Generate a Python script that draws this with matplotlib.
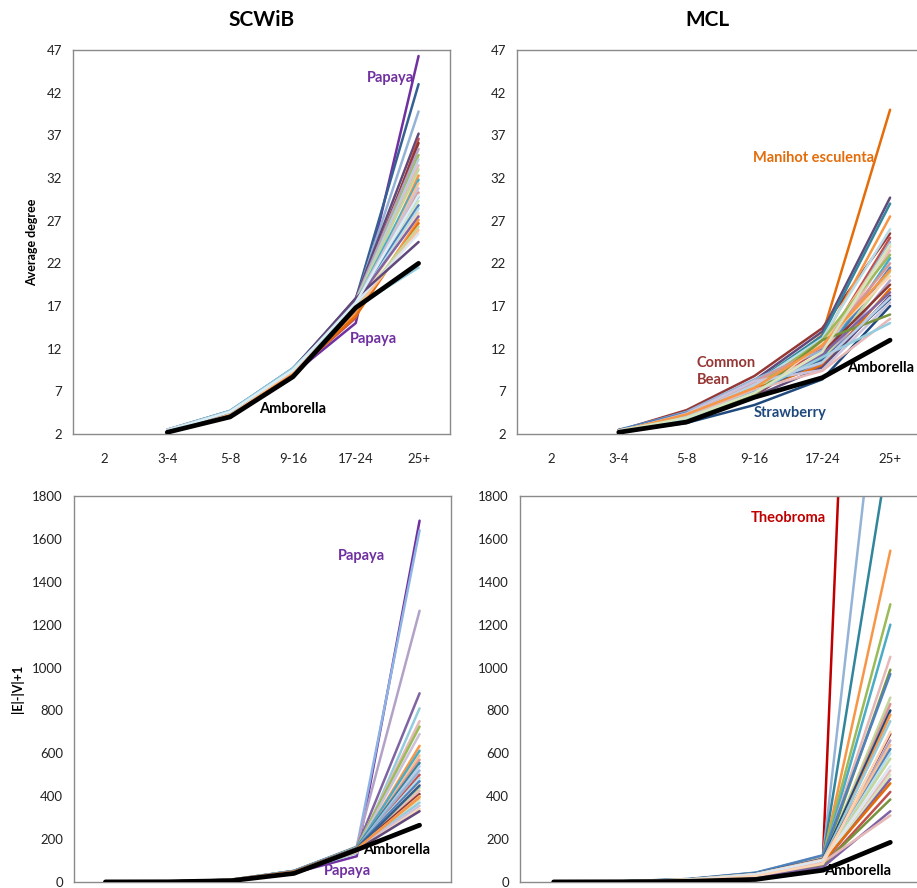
import matplotlib
matplotlib.use("Agg")
import matplotlib.pyplot as plt
import numpy as np

plt.rcParams['font.family'] = ['Lato', 'DejaVu Sans']

categories = ['2', '3-4', '5-8', '9-16', '17-24', '25+']

# ---- SCWiB, average degree (no value at "2") ----
scwib_deg_34 = [2.4, 2.5, 2.4, 2.3, 2.3, 2.4, 2.5, 2.4, 2.4, 2.3, 2.5, 2.4, 2.4, 2.3, 2.5, 2.4,
                2.4, 2.3, 2.5, 2.4, 2.3, 2.4, 2.3, 2.3, 2.4, 2.4, 2.5, 2.3, 2.4, 2.4]
scwib_deg_58 = [4.4, 4.6, 4.7, 4.5, 4.4, 4.6, 4.7, 4.5, 4.6, 4.4, 4.7, 4.5, 4.6, 4.5, 4.7, 4.4,
                4.6, 4.5, 4.7, 4.6, 4.5, 4.6, 4.4, 4.4, 4.5, 4.5, 4.6, 4.6, 4.7, 4.6]
scwib_deg_916 = [9.0, 9.6, 9.7, 9.4, 9.1, 9.5, 9.6, 9.4, 9.5, 9.3, 9.6, 9.2, 9.5, 9.4, 9.6, 9.3,
                 9.5, 9.4, 9.7, 9.5, 9.3, 9.6, 9.2, 9.1, 9.4, 9.3, 9.5, 9.6, 9.7, 9.5]
scwib_deg_1724 = [15.0, 17.8, 17.6, 17.9, 15.6, 17.4, 17.7, 17.3, 17.5, 17.2, 17.6, 16.2, 17.4, 16.8, 17.5, 16.5,
                  17.3, 17.1, 17.6, 17.2, 16.9, 17.5, 16.0, 15.8, 17.0, 16.6, 17.3, 17.9, 16.9, 17.4]
scwib_deg_25 = [46.3, 43.0, 39.8, 37.2, 36.6, 36.1, 35.4, 34.7, 34.2, 33.5, 33.0, 32.3, 31.8, 31.4, 30.8, 30.3,
                29.8, 29.3, 28.8, 28.4, 27.9, 27.5, 27.1, 26.7, 26.3, 25.9, 25.5, 24.5, 21.5, 30.0]
scwib_deg_amborella = [np.nan, 2.2, 4.0, 8.7, 16.8, 22.0]

# ---- MCL, average degree ----
mcl_deg_34 = [2.3, 2.4, 2.2, 2.4, 2.3, 2.4, 2.3, 2.5, 2.4, 2.3, 2.4, 2.3, 2.4, 2.3, 2.5, 2.4,
              2.3, 2.4, 2.3, 2.4, 2.3, 2.4, 2.3, 2.2, 2.3, 2.4, 2.3, 2.4, 2.3, 2.4]
mcl_deg_58 = [4.2, 4.8, 3.3, 4.5, 4.4, 4.1, 4.3, 4.0, 4.6, 3.9, 4.2, 4.4, 3.8, 4.1, 4.5, 3.7,
              4.3, 3.9, 4.2, 3.8, 4.0, 3.7, 3.9, 4.4, 3.6, 4.0, 3.8, 4.1, 4.3, 3.9]
mcl_deg_916 = [7.3, 8.8, 5.4, 8.3, 8.0, 7.6, 7.9, 7.2, 8.4, 7.0, 7.7, 7.4, 6.9, 8.1, 6.8, 7.5,
               6.6, 7.1, 6.5, 7.3, 6.7, 6.4, 7.0, 8.2, 6.6, 7.2, 6.9, 7.8, 7.4, 6.8]
mcl_deg_1724 = [13.6, 14.4, 8.4, 14.0, 13.5, 12.8, 13.2, 12.0, 11.8, 12.5, 11.2, 13.0, 10.8, 12.2, 11.0, 10.5,
                12.6, 10.2, 11.5, 10.0, 11.3, 9.8, 10.6, 9.5, 13.0, 9.4, 11.0, 10.4, 12.4, 11.6]
mcl_deg_25 = [40.0, 25.5, 17.0, 29.7, 29.0, 27.5, 26.0, 25.0, 24.5, 24.0, 23.5, 23.0, 22.6, 22.0, 21.5, 21.0,
              20.5, 20.0, 19.5, 19.0, 18.6, 18.2, 17.8, 17.4, 16.0, 15.5, 15.0, 18.0, 21.2, 24.2]
mcl_deg_amborella = [np.nan, 2.2, 3.4, 6.3, 8.6, 13.0]

# ---- SCWiB, |E|-|V|+1 ----
scwib_ev_2 = [0.5, 1, 0.5, 1, 0.5, 1, 0.5, 1, 0.5, 1, 0.5, 1, 0.5, 1, 0.5, 1,
              0.5, 1, 0.5, 1, 0.5, 1, 0.5, 1, 0.5, 1, 0.5, 1, 0.5, 1]
scwib_ev_34 = [1.5, 2, 2.5, 2, 1.5, 2, 2.5, 2, 1.5, 2, 2.5, 2, 1.5, 2, 2.5, 2,
               1.5, 2, 2.5, 2, 1.5, 2, 2.5, 2, 1.5, 2, 2.5, 2, 1.5, 2]
scwib_ev_58 = [8, 10, 11, 9, 8, 10, 9, 11, 10, 9, 8, 10, 11, 9, 10, 8,
               9, 10, 11, 9, 8, 10, 9, 10, 11, 9, 8, 10, 9, 10]
scwib_ev_916 = [42, 50, 52, 48, 45, 50, 49, 51, 47, 50, 46, 49, 52, 48, 50, 47,
                49, 51, 48, 50, 46, 49, 47, 50, 48, 49, 46, 45, 50, 48]
scwib_ev_1724 = [120, 162, 165, 160, 135, 158, 163, 157, 150, 160, 140, 158, 162, 155, 160, 148,
                 157, 161, 152, 159, 145, 158, 150, 160, 155, 157, 148, 150, 158, 155]
scwib_ev_25 = [1685, 1640, 1265, 880, 810, 750, 725, 690, 635, 612, 590, 570, 555, 540, 520, 500,
               485, 470, 455, 440, 425, 410, 400, 385, 370, 355, 340, 330, 450, 395]
scwib_ev_amborella = [0.5, 1, 6, 40, 150, 265]

# ---- MCL, |E|-|V|+1 ----
mcl_ev_2 = [1, 0.5, 1, 0.5, 1, 0.5, 1, 0.5, 1, 0.5, 1, 0.5, 1, 0.5, 1,
            0.5, 1, 0.5, 1, 0.5, 1, 0.5, 1, 0.5, 1, 0.5, 1, 0.5, 1, 0.5]
mcl_ev_34 = [2, 3, 2.5, 2, 3, 1.5, 2.5, 2, 3, 2, 1.5, 2.5, 2, 3, 2,
             1.5, 2.5, 2, 3, 2, 1.5, 2.5, 2, 1.5, 2, 2.5, 1.5, 2, 2.5, 2]
mcl_ev_58 = [10, 14, 12, 11, 13, 9, 12, 10, 14, 11, 9, 12, 8, 11, 10,
             9, 12, 8, 10, 11, 7, 9, 8, 10, 7, 8, 6, 9, 11, 8]
mcl_ev_916 = [38, 44, 42, 40, 41, 36, 39, 37, 43, 35, 33, 38, 30, 36, 34,
              31, 37, 29, 33, 35, 27, 30, 28, 32, 26, 29, 24, 31, 36, 28]
mcl_ev_1724 = [118, 122, 115, 110, 120, 104, 112, 100, 125, 98, 92, 108, 86, 102, 95,
               88, 105, 82, 96, 99, 78, 90, 84, 94, 75, 80, 70, 92, 101, 85]
mcl_ev_25 = [7600, 2890, 2060, 1545, 1295, 1200, 1050, 990, 970, 860, 830, 800, 780, 750, 690,
             660, 640, 620, 600, 575, 520, 500, 480, 460, 420, 385, 330, 310, 540, 700]
mcl_ev_amborella = [0.5, 1, 3, 12, 55, 185]

# colours (styling only)
tl_colors = ['#7030A0', '#376092', '#95B3D7', '#604A7B', '#C0504D', '#8C3836', '#B3A2C7', '#9BBB59',
             '#B9CDE5', '#E6B9B8', '#C3D69B', '#F79646', '#4BACC6', '#FAC090', '#CCC1DA', '#D99694',
             '#93CDDD', '#D7E4BD', '#4F81BD', '#B7DEE8', '#FCD5B5', '#8064A2', '#F79646', '#E46C0A',
             '#C3D69B', '#FAC090', '#DCE6F2', '#5F497A', '#93CDDD', '#DBEEF4']
tr_colors = ['#E46C0A', '#953735', '#1F497D', '#604A7B', '#31859C', '#F79646', '#B7DEE8', '#C0504D',
             '#95B3D7', '#FAC090', '#E6B9B8', '#9BBB59', '#4BACC6', '#D99694', '#4F81BD', '#C3D69B',
             '#FCD5B5', '#B3A2C7', '#8C3836', '#E46C0A', '#8064A2', '#5F497A', '#376092', '#CCC1DA',
             '#77933C', '#E6B9B8', '#93CDDD', '#B9CDE5', '#F79646', '#D7E4BD']
bl_colors = ['#7030A0', '#8EB4E3', '#B3A2C7', '#8064A2', '#93CDDD', '#E6B9B8', '#9BBB59', '#CCC1DA',
             '#F79646', '#4BACC6', '#FAC090', '#D99694', '#31859C', '#B9CDE5', '#95B3D7', '#C0504D',
             '#B7DEE8', '#4F81BD', '#FCD5B5', '#C3D69B', '#E6B9B8', '#8C3836', '#FAC090', '#D7E4BD',
             '#93CDDD', '#CCC1DA', '#FCD5B5', '#5F497A', '#376092', '#F79646']
br_colors = ['#C00000', '#95B3D7', '#31859C', '#F79646', '#9BBB59', '#4BACC6', '#E6B9B8', '#77933C',
             '#4F81BD', '#C3D69B', '#D99694', '#1F497D', '#F79646', '#93CDDD', '#8C3836', '#B3A2C7',
             '#FAC090', '#4F81BD', '#B7DEE8', '#C3D69B', '#E6B9B8', '#D7E4BD', '#8064A2', '#E46C0A',
             '#C0504D', '#77933C', '#8064A2', '#E6B9B8', '#DCE6F2', '#FCD5B5']

W, H = 917, 888
fig = plt.figure(figsize=(W / 100, H / 100), dpi=100)

def px_axes(left, top, right, bottom):
    return fig.add_axes([left / W, 1 - bottom / H, (right - left) / W, (bottom - top) / H])

ax_tl = px_axes(73, 50, 450, 434)
ax_tr = px_axes(517, 50, 924, 434)
ax_bl = px_axes(74, 496, 451, 882)
ax_br = px_axes(520, 496, 924, 882)

x = np.arange(len(categories))

def draw(ax, cols, colors, amborella, ylim, yticks):
    n = len(cols[-1])
    for i in range(n):
        vals = [c[i] if c is not None else np.nan for c in cols]
        ax.plot(x, vals, color=colors[i], lw=1.8, solid_capstyle='round', zorder=2)
    ax.plot(x, amborella, color='black', lw=3.4, solid_capstyle='round', zorder=3)
    ax.set_xlim(-0.5, 5.5)
    ax.set_ylim(*ylim)
    ax.set_yticks(yticks)
    ax.set_xticks(x)
    ax.set_xticklabels(categories)
    ax.tick_params(length=0, labelsize=9.5, colors='#222222', pad=8)
    for s in ax.spines.values():
        s.set_color('#8a8a8a')
        s.set_linewidth(1)

draw(ax_tl, [None, scwib_deg_34, scwib_deg_58, scwib_deg_916, scwib_deg_1724, scwib_deg_25],
     tl_colors, scwib_deg_amborella, (2, 47), np.arange(2, 48, 5))
draw(ax_tr, [None, mcl_deg_34, mcl_deg_58, mcl_deg_916, mcl_deg_1724, mcl_deg_25],
     tr_colors, mcl_deg_amborella, (2, 47), np.arange(2, 48, 5))
draw(ax_bl, [scwib_ev_2, scwib_ev_34, scwib_ev_58, scwib_ev_916, scwib_ev_1724, scwib_ev_25],
     bl_colors, scwib_ev_amborella, (0, 1800), np.arange(0, 1801, 200))
draw(ax_br, [mcl_ev_2, mcl_ev_34, mcl_ev_58, mcl_ev_916, mcl_ev_1724, mcl_ev_25],
     br_colors, mcl_ev_amborella, (0, 1800), np.arange(0, 1801, 200))

ax_tl.tick_params(axis='x', pad=14)
ax_tr.tick_params(axis='x', pad=14)
# bottom row category labels fall below the picture edge in the original
ax_bl.tick_params(axis='x', labelbottom=False)
ax_br.tick_params(axis='x', labelbottom=False)

ax_tl.set_title('SCWiB', fontsize=15, fontweight='bold', pad=17)
ax_tr.set_title('MCL', fontsize=15, fontweight='bold', pad=17, x=(707 - 517) / 407)
ax_tl.set_ylabel('Average degree', fontsize=9, fontweight='bold', labelpad=6)
ax_bl.set_ylabel('|E|-|V|+1', fontsize=9, fontweight='bold', labelpad=6)

lab = dict(fontsize=10.5, fontweight='bold', ha='center', va='center', zorder=5)
ax_tl.text(4.56, 43.7, 'Papaya', color='#7030A0', **lab)
ax_tl.text(4.28, 13.1, 'Papaya', color='#7030A0', **lab)
ax_tl.text(2.99, 4.9, 'Amborella', color='black', **lab)

ax_tr.text(3.87, 34.3, 'Manihot esculenta', color='#E46C0A', **lab)
ax_tr.text(2.15, 9.3, 'Common\nBean', color='#953735', fontsize=10.5, fontweight='bold',
           ha='left', va='center', linespacing=1.3, zorder=5)
ax_tr.text(5.36, 9.7, 'Amborella', color='black', fontsize=10.5, fontweight='bold',
           ha='right', va='center', zorder=5)
ax_tr.text(3.53, 4.5, 'Strawberry', color='#1F497D', **lab)

ax_bl.text(4.07, 1520, 'Papaya', color='#7030A0', **lab)
ax_bl.text(3.85, 51, 'Papaya', color='#7030A0', **lab)
ax_bl.text(4.64, 149, 'Amborella', color='black', **lab)

ax_br.text(3.48, 1697, 'Theobroma', color='#C00000', **lab)
ax_br.text(4.52, 51, 'Amborella', color='black', **lab)

fig.savefig('out.png', dpi=100)
